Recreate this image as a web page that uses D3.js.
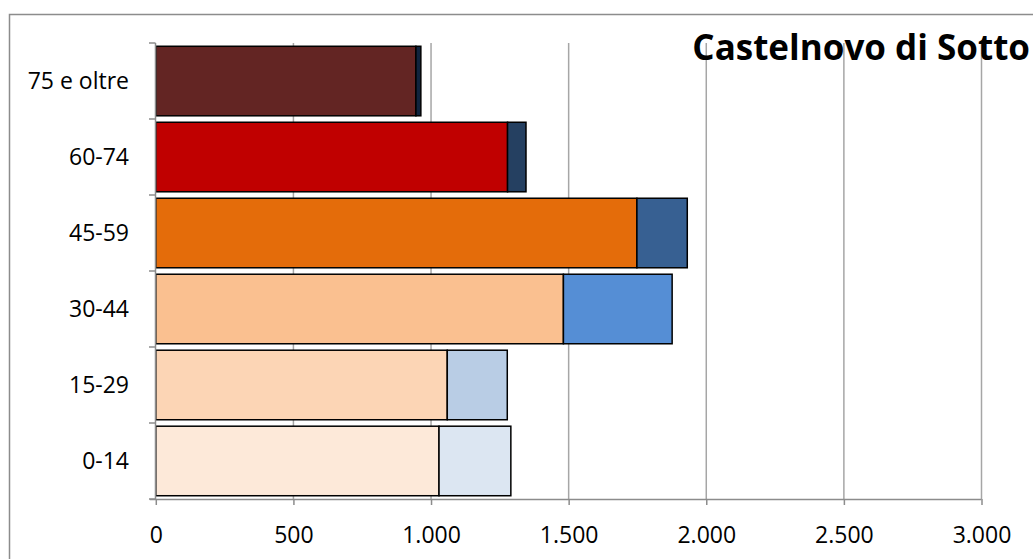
<!DOCTYPE html>
<html>
<head>
<meta charset="utf-8">
<script src="https://cdn.jsdelivr.net/npm/d3@7"></script>
<style>
  html, body { margin: 0; padding: 0; background: #fff; }
  svg { display: block; }
</style>
</head>
<body>
<svg id="chart" width="1033" height="559"></svg>
<script>
const categories = ["75 e oltre", "60-74", "45-59", "30-44", "15-29", "0-14"];
const italiani   = [945, 1278, 1748, 1481, 1059, 1029];
const stranieri  = [18, 67, 183, 395, 218, 261];
const xTicks     = [0, 500, 1000, 1500, 2000, 2500, 3000];
const title      = "Castelnovo di Sotto";
const colItaliani  = ["#632523", "#c00000", "#e46c0a", "#fac090", "#fcd5b5", "#fde9d9"];
const colStranieri = ["#10243e", "#254061", "#376092", "#558ed5", "#b9cde5", "#dce6f2"];

const svg = d3.select("#chart");
const font = "'Open Sans', 'Noto Sans', sans-serif";

// outer chart border
svg.append("rect")
  .attr("x", 9.5).attr("y", 14.5).attr("width", 1100).attr("height", 600)
  .attr("fill", "none").attr("stroke", "#8c8c8c").attr("stroke-width", 1.5);

const x = d3.scaleLinear().domain([0, 3000]).range([155.8, 981.5]);
const y = d3.scaleBand().domain(categories).range([43, 499])
  .paddingInner(0.085).paddingOuter(0.043);

// gridlines
svg.append("g").selectAll("line").data(xTicks.filter(d => d > 0)).join("line")
  .attr("x1", d => x(d)).attr("x2", d => x(d))
  .attr("y1", 43).attr("y2", 499)
  .attr("stroke", "#a6a6a6").attr("stroke-width", 1.5);

// bars
const rows = categories.map((c, i) => ({c, i, a: italiani[i], b: stranieri[i]}));
const g = svg.append("g");
g.selectAll("rect.it").data(rows).join("rect").attr("class", "it")
  .attr("x", d => x(0)).attr("y", d => y(d.c))
  .attr("width", d => x(d.a) - x(0)).attr("height", y.bandwidth())
  .attr("fill", d => colItaliani[d.i]).attr("stroke", "#000").attr("stroke-width", 1.5);
g.selectAll("rect.st").data(rows).join("rect").attr("class", "st")
  .attr("x", d => x(d.a)).attr("y", d => y(d.c))
  .attr("width", d => x(d.a + d.b) - x(d.a)).attr("height", y.bandwidth())
  .attr("fill", d => colStranieri[d.i]).attr("stroke", "#000").attr("stroke-width", 1.5);

// x axis
const xAxis = d3.axisBottom(x).tickValues(xTicks).tickSize(6).tickPadding(18)
  .tickFormat(d => d3.format(",")(d).replace(/,/g, "."));
const gx = svg.append("g").attr("transform", "translate(0,499)").call(xAxis);
gx.select(".domain").attr("stroke", "#8c8c8c").attr("stroke-width", 1.5)
  .attr("d", `M${x(0)-6},0.5H${x(3000)}`);
gx.selectAll(".tick line").attr("stroke", "#8c8c8c").attr("stroke-width", 1.5);
gx.selectAll(".tick text").attr("fill", "#000").attr("font-size", 23).attr("font-family", font)
  .attr("y", 36).attr("dy", "0.35em");

// y axis with ticks at band boundaries
const bounds = d3.range(categories.length + 1).map(i => 43 + i * (456 / categories.length));
svg.append("line").attr("x1", 155.5).attr("x2", 155.5).attr("y1", 43).attr("y2", 499)
  .attr("stroke", "#8c8c8c").attr("stroke-width", 1.5);
svg.append("g").selectAll("line").data(bounds).join("line")
  .attr("x1", 149).attr("x2", 155.5).attr("y1", d => d).attr("y2", d => d)
  .attr("stroke", "#8c8c8c").attr("stroke-width", 1.5);
svg.append("g").selectAll("text").data(categories).join("text")
  .attr("x", 129).attr("y", d => y(d) + y.bandwidth() / 2)
  .attr("dy", "0.35em").attr("text-anchor", "end")
  .attr("font-size", 23).attr("font-family", font).attr("fill", "#000")
  .text(d => d);

// title
svg.append("text").attr("x", 1030).attr("y", 60).attr("text-anchor", "end")
  .attr("font-size", 35).attr("font-weight", "bold").attr("font-family", font)
  .attr("fill", "#000").text(title);
</script>
</body>
</html>
